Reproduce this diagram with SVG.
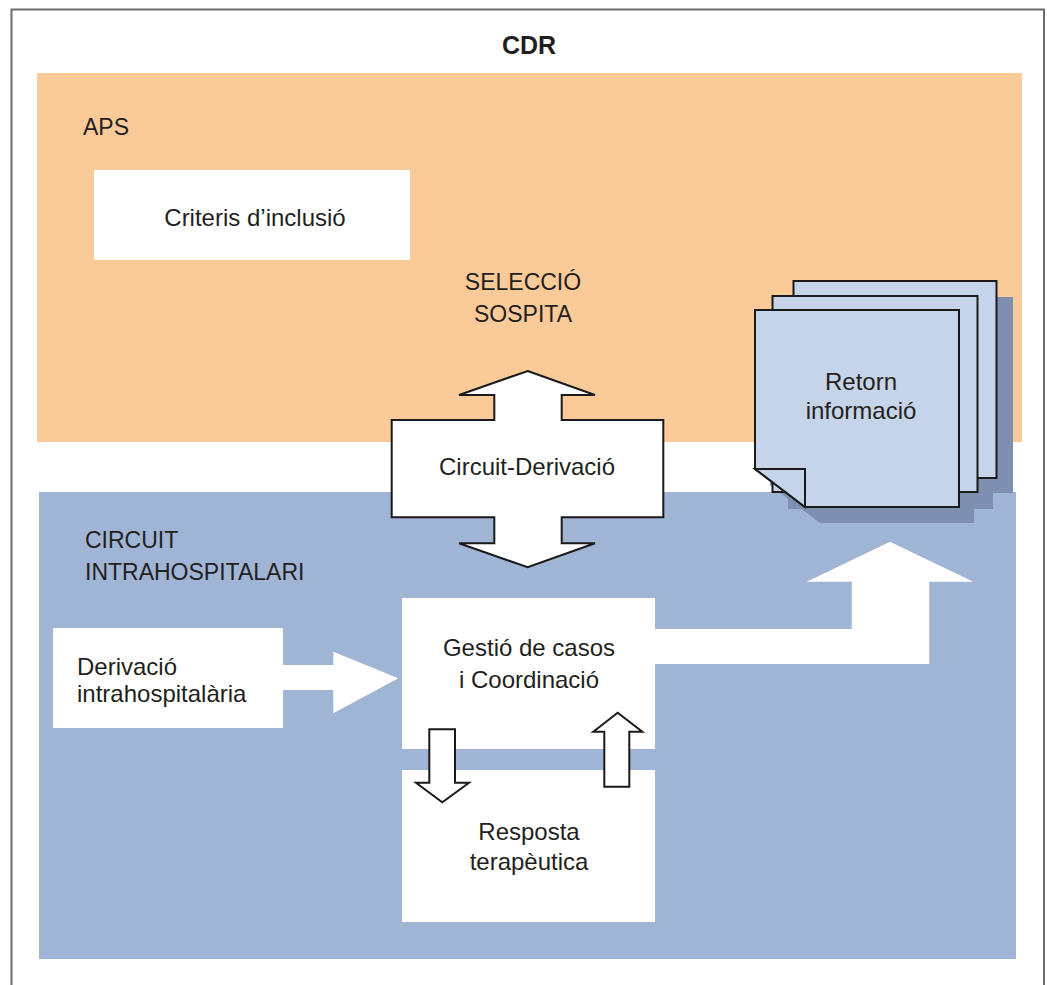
<svg xmlns="http://www.w3.org/2000/svg" width="1047" height="985" viewBox="0 0 1047 985">
<style>
text{font-family:"Liberation Sans",Arial,sans-serif;fill:#231f20;font-size:24px}
.c{text-anchor:middle}
.caps{font-size:23px}
.box{fill:#ffffff}
.arr{fill:#ffffff;stroke:#1a1a1a;stroke-width:2;stroke-linejoin:miter}
.page{fill:#c5d4e8;stroke:#1a1a1a;stroke-width:2}
.shadow{fill:#7f8fb0}
</style>
<rect width="1047" height="985" fill="#ffffff"/>
<path d="M11.5 985 V9.5 H1044 V985" fill="none" stroke="#6b6b6b" stroke-width="2"/>
<text class="c" x="529" y="54" style="font-weight:bold;font-size:25px">CDR</text>

<g id="aps">
<rect x="37" y="73" width="985" height="369" fill="#facb99"/>
<text class="caps" x="83" y="135">APS</text>
<text class="c caps" x="523" y="290">SELECCIÓ</text>
<text class="c caps" x="523" y="322">SOSPITA</text>
</g>
<g id="circuit">
<rect x="39" y="492" width="977" height="467" fill="#a0b4d5"/>
<text class="caps" x="85" y="548">CIRCUIT</text>
<text class="caps" x="85" y="580">INTRAHOSPITALARI</text>
</g>

<g id="criteris">
<rect class="box" x="94" y="170" width="316" height="90"/>
<text class="c" x="255" y="226">Criteris d’inclusió</text>
</g>

<g id="retorn">
<rect class="shadow" x="809" y="297" width="204" height="196"/>
<rect class="shadow" x="788" y="311" width="205" height="198"/>
<path class="shadow" d="M770 326 H974 V523 H820 L770 485 Z"/>
<rect class="page" x="793.5" y="281" width="203" height="197"/>
<rect class="page" x="772.5" y="296" width="205" height="196"/>
<path class="page" d="M755 310 H959 V507 H805 L755 469 Z"/>
<path class="page" d="M755 469 H805 V507 Z" stroke-linejoin="miter"/>
<text class="c" x="861" y="390">Retorn</text>
<text class="c" x="861" y="419">informació</text>
</g>

<g id="circuit-derivacio">
<path class="arr" d="M527.7 371 L595 395 H561.7 V420 H663.3 V517.3 H561.7 V543.3 H595 L527.7 567.3 L459 543.3 H494.3 V517.3 H391.7 V420 H494.3 V395 H459 Z"/>
<text class="c" x="527" y="475">Circuit-Derivació</text>
</g>

<g id="derivacio">
<rect class="box" x="53" y="628" width="230" height="100"/>
<text x="77" y="675">Derivació</text>
<text x="77" y="702">intrahospitalària</text>
</g>

<g id="gestio">
<rect class="box" x="402" y="598" width="253" height="151"/>
<text class="c" x="529" y="656">Gestió de casos</text>
<text class="c" x="529" y="688">i Coordinació</text>
</g>

<g id="resposta">
<rect class="box" x="402" y="770" width="253" height="152"/>
<text class="c" x="529" y="840">Resposta</text>
<text class="c" x="529" y="870">terapèutica</text>
</g>

<g id="connectors">
<path fill="#ffffff" d="M283 665 H333.3 V651.7 L398.3 678.3 L333.3 713.3 V690 H283 Z"/>
<path fill="#ffffff" d="M654 629 H851.7 V581.7 H806.7 L890 541.7 L973.3 581.7 H929.3 V664 H654 Z"/>
<path class="arr" d="M429.3 729.3 H455 V782.7 H469 L442.3 802.3 L416 782.7 H429.3 Z"/>
<path class="arr" d="M604.3 786.7 V731.7 H593.3 L617.7 712.7 L642.3 731.7 H629.3 V786.7 Z"/>
</g>
</svg>
